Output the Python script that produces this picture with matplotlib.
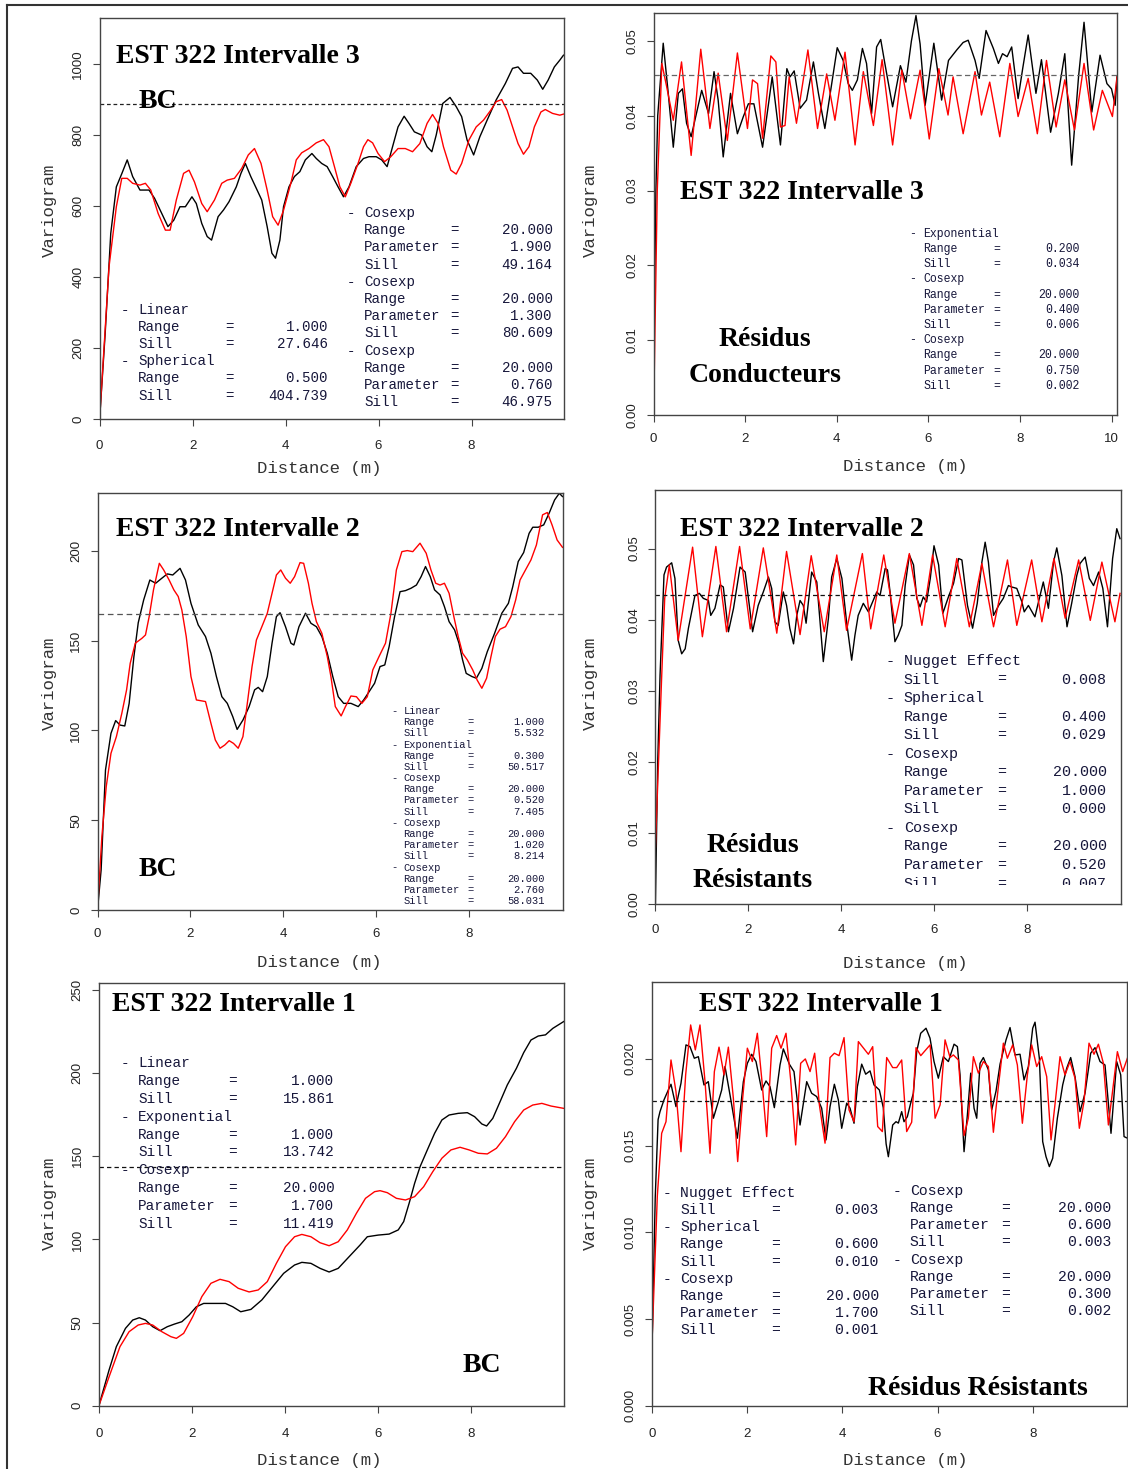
import numpy as np
import matplotlib
matplotlib.use('Agg')
import matplotlib.pyplot as plt
from matplotlib.lines import Line2D
from matplotlib.transforms import Bbox, TransformedBbox

W, H = 1128, 1469

# ── Intervalle 3, BC (haut gauche) : (distance, variogramme) ─────────────────
a_exp = [(0, 0), (0.12, 242), (0.24, 524), (0.36, 655), (0.48, 693), (0.594, 731),
         (0.711, 684), (0.868, 646), (1.063, 646), (1.181, 623), (1.337, 580),
         (1.47, 543), (1.595, 561), (1.728, 599), (1.845, 599), (1.986, 627),
         (2.08, 608), (2.197, 552), (2.314, 515), (2.408, 505), (2.549, 571),
         (2.666, 590), (2.783, 613), (2.94, 655), (3.04, 693), (3.135, 721),
         (3.252, 684), (3.37, 651), (3.487, 618), (3.604, 543), (3.706, 468),
         (3.784, 454), (3.878, 505), (3.956, 599), (4.073, 655), (4.19, 684),
         (4.308, 698), (4.425, 731), (4.566, 749), (4.66, 735), (4.777, 721),
         (4.894, 712), (5.012, 684), (5.129, 655), (5.246, 627), (5.364, 655),
         (5.52, 712), (5.676, 735), (5.794, 740), (5.95, 740), (6.067, 731),
         (6.184, 712), (6.301, 768), (6.419, 824), (6.55, 854), (6.653, 834),
         (6.77, 810), (6.927, 801), (7.044, 768), (7.146, 754), (7.24, 801),
         (7.381, 890), (7.537, 907), (7.67, 881), (7.787, 853), (7.904, 787),
         (8.045, 745), (8.178, 796), (8.335, 843), (8.53, 900), (8.726, 946),
         (8.882, 989), (9.0, 993), (9.117, 975), (9.273, 975), (9.414, 956),
         (9.531, 930), (9.648, 956), (9.781, 993), (9.898, 1012), (9.977, 1026)]
a_mod = [(0, 0), (0.203, 430), (0.36, 599), (0.477, 679), (0.594, 679), (0.711, 665),
         (0.868, 660), (0.985, 665), (1.1, 646), (1.259, 580), (1.415, 533),
         (1.517, 533), (1.65, 618), (1.806, 693), (1.923, 702), (2.04, 669),
         (2.197, 608), (2.314, 585), (2.471, 618), (2.627, 665), (2.744, 674),
         (2.9, 679), (3.057, 707), (3.198, 745), (3.331, 763), (3.472, 721),
         (3.604, 646), (3.722, 571), (3.839, 547), (3.956, 589), (4.113, 665),
         (4.23, 731), (4.347, 751), (4.503, 763), (4.66, 779), (4.816, 788),
         (4.934, 768), (5.051, 712), (5.168, 655), (5.285, 627), (5.403, 665),
         (5.559, 721), (5.676, 768), (5.77, 788), (5.872, 779), (5.989, 749),
         (6.13, 726), (6.263, 740), (6.419, 763), (6.575, 763), (6.731, 754),
         (6.888, 777), (7.044, 834), (7.161, 859), (7.279, 834), (7.396, 768),
         (7.553, 702), (7.67, 691), (7.787, 721), (7.944, 787), (8.1, 824),
         (8.257, 843), (8.413, 871), (8.53, 895), (8.648, 901), (8.765, 871),
         (8.882, 824), (9.0, 777), (9.117, 747), (9.234, 768), (9.351, 824),
         (9.492, 866), (9.586, 873), (9.742, 862), (9.898, 857), (9.977, 860)]
a_sill = 889

# ── Intervalle 3, résidus conducteurs (haut droite) ──────────────────────────
b_exp = [(0, 0.005), (0.05, 0.030), (0.09, 0.040), (0.21, 0.0497), (0.32, 0.0430),
         (0.43, 0.0358), (0.54, 0.0430), (0.63, 0.0436), (0.72, 0.0390), (0.82, 0.0372),
         (1.05, 0.0434), (1.20, 0.0403), (1.32, 0.0459), (1.41, 0.0421), (1.52, 0.0345),
         (1.68, 0.0430), (1.83, 0.0376), (1.96, 0.0399), (2.07, 0.0416), (2.19, 0.0416),
         (2.38, 0.0358), (2.59, 0.0452), (2.77, 0.0361), (2.91, 0.0463), (2.98, 0.0452),
         (3.07, 0.0460), (3.20, 0.0410), (3.34, 0.0421), (3.49, 0.0472), (3.60, 0.0430),
         (3.74, 0.0383), (3.89, 0.0443), (4.01, 0.0491), (4.14, 0.0474), (4.25, 0.0443),
         (4.34, 0.0434), (4.45, 0.0448), (4.56, 0.0490), (4.65, 0.0470), (4.76, 0.0403),
         (4.87, 0.0492), (4.96, 0.0502), (5.05, 0.0470), (5.22, 0.0412), (5.39, 0.0467),
         (5.51, 0.0445), (5.63, 0.0500), (5.73, 0.0534), (5.82, 0.0496), (5.93, 0.0414),
         (6.12, 0.0497), (6.29, 0.0421), (6.44, 0.0474), (6.62, 0.0488), (6.76, 0.0498),
         (6.87, 0.0501), (7.02, 0.0474), (7.11, 0.0450), (7.26, 0.0514), (7.42, 0.0490),
         (7.53, 0.0470), (7.62, 0.0483), (7.72, 0.0479), (7.82, 0.0492), (7.96, 0.0423),
         (8.06, 0.0463), (8.18, 0.0508), (8.35, 0.0430), (8.47, 0.0475), (8.67, 0.0378),
         (8.84, 0.0430), (8.98, 0.0483), (9.13, 0.0334), (9.28, 0.0452), (9.40, 0.0525),
         (9.57, 0.0405), (9.75, 0.0481), (9.90, 0.0443), (10.0, 0.0436), (10.08, 0.0414),
         (10.12, 0.0452)]
b_mod = [(0, 0.0), (0.08, 0.030), (0.18, 0.047), (0.285, 0.0439), (0.43, 0.0394),
         (0.61, 0.0472), (0.82, 0.0347), (1.03, 0.0489), (1.23, 0.0383), (1.41, 0.0457),
         (1.61, 0.0367), (1.83, 0.0484), (2.05, 0.0383), (2.16, 0.0448), (2.27, 0.0443),
         (2.38, 0.0370), (2.56, 0.0480), (2.67, 0.0472), (2.77, 0.0385), (2.87, 0.0387),
         (2.96, 0.0452), (3.12, 0.0390), (3.37, 0.0488), (3.58, 0.0383), (3.78, 0.0456),
         (3.96, 0.0394), (4.18, 0.0485), (4.40, 0.0361), (4.58, 0.0459), (4.80, 0.0387),
         (4.99, 0.0475), (5.22, 0.0361), (5.42, 0.0461), (5.61, 0.0396), (5.82, 0.0461),
         (6.02, 0.0369), (6.23, 0.0463), (6.43, 0.0401), (6.54, 0.0452), (6.76, 0.0376),
         (7.02, 0.0459), (7.16, 0.0401), (7.34, 0.0445), (7.56, 0.0372), (7.78, 0.0470),
         (7.96, 0.0399), (8.18, 0.0450), (8.38, 0.0376), (8.58, 0.0474), (8.79, 0.0385),
         (8.98, 0.0448), (9.19, 0.0381), (9.40, 0.0470), (9.61, 0.0381), (9.80, 0.0434),
         (10.02, 0.0399), (10.12, 0.0452)]
b_sill = 0.04542

# ── Intervalle 2, BC (milieu gauche) ─────────────────────────────────────────
c_exp = [(0, 0), (0.078, 22.3), (0.172, 78), (0.29, 98.4), (0.391, 105.5), (0.485, 103),
         (0.587, 102.5), (0.681, 115), (0.783, 141), (0.877, 160), (0.994, 172.7),
         (1.127, 183.8), (1.252, 182), (1.385, 184.8), (1.503, 187.2), (1.62, 186.6),
         (1.777, 190.3), (1.894, 183.8), (2.012, 170.8), (2.168, 158.8), (2.325, 152.3),
         (2.442, 143), (2.56, 130), (2.677, 118.8), (2.794, 115.1), (2.912, 107.7),
         (3.006, 100.6), (3.131, 105.8), (3.264, 113.3), (3.382, 122.6), (3.46, 124),
         (3.554, 121.6), (3.655, 130), (3.757, 148.6), (3.851, 163.4), (3.93, 165.6),
         (4.047, 157.8), (4.164, 148.6), (4.227, 147.6), (4.337, 157.8), (4.478, 165.3),
         (4.595, 159.7), (4.712, 157.8), (4.83, 152.3), (4.947, 143), (5.065, 130),
         (5.182, 118.8), (5.299, 115.1), (5.456, 115.1), (5.613, 113.3), (5.73, 117),
         (5.847, 121.6), (5.965, 126.3), (6.082, 135.6), (6.184, 136.5), (6.278, 146.7),
         (6.395, 163.4), (6.513, 177.3), (6.63, 177.9), (6.748, 179.2), (6.865, 181),
         (6.967, 185.7), (7.061, 191.3), (7.163, 185.7), (7.256, 178.3), (7.374, 175.5),
         (7.468, 169), (7.569, 160.6), (7.687, 156), (7.781, 148.6), (7.859, 139.3),
         (7.937, 131.8), (8.063, 130), (8.156, 129.1), (8.274, 134.6), (8.391, 143.9),
         (8.548, 154.1), (8.704, 165.3), (8.845, 170.8), (8.939, 180.1), (9.057, 194.1),
         (9.174, 199.1), (9.291, 209.8), (9.37, 213.2), (9.487, 213.2), (9.605, 214.5),
         (9.722, 221), (9.84, 228.4), (9.941, 232.1), (10.01, 230.3)]
c_mod = [(0, 0), (0.094, 40.9), (0.188, 68.7), (0.29, 87.3), (0.407, 96.6), (0.524, 109.6),
         (0.626, 122.6), (0.704, 137.4), (0.814, 148.6), (0.955, 151.3), (1.033, 153.2),
         (1.112, 163.4), (1.205, 178.3), (1.331, 193.1), (1.425, 189.4), (1.542, 183.8),
         (1.644, 178.3), (1.738, 174.6), (1.816, 167.1), (1.91, 152.3), (2.012, 130),
         (2.129, 117), (2.325, 116.1), (2.442, 104), (2.536, 94.7), (2.638, 90.1),
         (2.74, 91.9), (2.834, 94.3), (2.928, 92.8), (3.029, 90.1), (3.131, 96.6),
         (3.225, 115.1), (3.327, 135.6), (3.421, 150.4), (3.538, 157.8), (3.655, 165.3),
         (3.757, 176.4), (3.851, 186.6), (3.945, 189.4), (4.047, 184.8), (4.149, 182),
         (4.243, 185.7), (4.36, 193.5), (4.438, 193.1), (4.54, 182), (4.618, 170.8),
         (4.712, 160.6), (4.83, 154.1), (4.947, 141.1), (5.025, 130), (5.119, 113.3),
         (5.245, 108.1), (5.338, 113.3), (5.456, 119.2), (5.574, 118.8), (5.691, 115.1),
         (5.808, 118.8), (5.926, 133.7), (6.059, 141.1), (6.2, 148.6), (6.317, 165.3),
         (6.434, 189.4), (6.552, 199.6), (6.669, 200.2), (6.787, 199.6), (6.943, 204.3),
         (7.076, 198.7), (7.178, 189.4), (7.28, 182), (7.374, 181), (7.468, 182),
         (7.569, 176.4), (7.671, 163.4), (7.765, 152.3), (7.859, 143), (7.961, 139.3),
         (8.078, 133.7), (8.172, 128.1), (8.274, 123.5), (8.376, 129.1), (8.47, 141.1),
         (8.564, 152.3), (8.665, 156.4), (8.783, 157.8), (8.9, 163.4), (9.002, 172.7),
         (9.096, 183.8), (9.213, 189.4), (9.331, 195), (9.448, 203.3), (9.581, 220.1),
         (9.683, 221.4), (9.785, 214.5), (9.894, 206.1), (10.01, 202)]
c_sill = 165

# ── Intervalle 2, résidus résistants (milieu droite) ─────────────────────────
d_exp = [(0, 0), (0.05, 0.020), (0.10, 0.0322), (0.185, 0.0463), (0.24, 0.0474),
         (0.35, 0.0480), (0.42, 0.0458), (0.49, 0.0371), (0.565, 0.0352), (0.64, 0.0359),
         (0.71, 0.0388), (0.78, 0.0411), (0.85, 0.0434), (0.945, 0.0437), (1.03, 0.0430),
         (1.14, 0.0427), (1.19, 0.0406), (1.28, 0.0416), (1.39, 0.0449), (1.46, 0.0446),
         (1.57, 0.0383), (1.68, 0.0416), (1.82, 0.0474), (1.93, 0.0467), (2.09, 0.0383),
         (2.21, 0.0420), (2.32, 0.0439), (2.43, 0.0460), (2.50, 0.0444), (2.57, 0.0397),
         (2.64, 0.0392), (2.75, 0.0439), (2.82, 0.0420), (2.89, 0.0388), (2.97, 0.0366),
         (3.04, 0.0406), (3.11, 0.0427), (3.18, 0.0420), (3.24, 0.0395), (3.36, 0.0467),
         (3.47, 0.0453), (3.54, 0.0397), (3.61, 0.0341), (3.72, 0.0402), (3.79, 0.0460),
         (3.90, 0.0486), (4.01, 0.0458), (4.11, 0.0397), (4.22, 0.0343), (4.29, 0.0378),
         (4.36, 0.0406), (4.47, 0.0423), (4.58, 0.0411), (4.67, 0.0425), (4.76, 0.0439),
         (4.83, 0.0434), (4.94, 0.0472), (4.99, 0.0470), (5.045, 0.0439), (5.15, 0.0369),
         (5.22, 0.0378), (5.30, 0.0392), (5.37, 0.0448), (5.46, 0.0491), (5.55, 0.0477),
         (5.62, 0.0430), (5.69, 0.0418), (5.76, 0.0432), (5.83, 0.0425), (5.91, 0.0458),
         (5.99, 0.0504), (6.09, 0.0477), (6.18, 0.0409), (6.30, 0.0432), (6.41, 0.0451),
         (6.52, 0.0486), (6.59, 0.0484), (6.71, 0.0420), (6.82, 0.0388), (6.92, 0.0423),
         (7.02, 0.0481), (7.09, 0.0509), (7.16, 0.0481), (7.27, 0.0406), (7.38, 0.0420),
         (7.48, 0.0430), (7.59, 0.0448), (7.66, 0.0446), (7.77, 0.0444), (7.88, 0.0425),
         (7.93, 0.0411), (8.02, 0.0420), (8.16, 0.0404), (8.27, 0.0434), (8.34, 0.0453),
         (8.45, 0.0416), (8.56, 0.0481), (8.63, 0.0501), (8.74, 0.0462), (8.85, 0.0390),
         (8.95, 0.0423), (9.06, 0.0462), (9.13, 0.0479), (9.24, 0.0488), (9.33, 0.0458),
         (9.42, 0.0448), (9.53, 0.0467), (9.62, 0.0444), (9.72, 0.0390), (9.83, 0.0486),
         (9.92, 0.0528), (9.99, 0.0514)]
d_mod = [(0, 0.008), (0.135, 0.032), (0.20, 0.043), (0.30, 0.0477), (0.49, 0.0371),
         (0.80, 0.0502), (1.01, 0.0376), (1.30, 0.0503), (1.53, 0.0383), (1.81, 0.0503),
         (2.04, 0.0387), (2.32, 0.0501), (2.61, 0.0381), (2.82, 0.0496), (3.11, 0.0379),
         (3.35, 0.0490), (3.63, 0.0383), (3.90, 0.0491), (4.11, 0.0385), (4.45, 0.0493),
         (4.63, 0.0387), (4.91, 0.0491), (5.15, 0.0395), (5.46, 0.0493), (5.73, 0.0392),
         (5.96, 0.0491), (6.23, 0.0390), (6.48, 0.0486), (6.75, 0.0390), (7.02, 0.0479),
         (7.27, 0.0390), (7.57, 0.0484), (7.77, 0.0392), (8.09, 0.0484), (8.31, 0.0397),
         (8.57, 0.0486), (8.81, 0.0402), (9.10, 0.0484), (9.35, 0.0399), (9.60, 0.0481),
         (9.88, 0.0397), (9.99, 0.0437)]
d_sill = 0.04353

# ── Intervalle 1, BC (bas gauche) ────────────────────────────────────────────
e_exp = [(0, 0), (0.219, 21.5), (0.375, 35.5), (0.571, 46.5), (0.727, 51.5), (0.868, 52.9),
         (1.0, 51.5), (1.157, 47.5), (1.314, 45.1), (1.47, 47.5), (1.626, 49.1),
         (1.783, 50.5), (1.939, 54.5), (2.095, 59.5), (2.252, 61.5), (2.486, 61.5),
         (2.721, 61.5), (2.877, 59.5), (3.049, 56.5), (3.268, 57.9), (3.503, 63.6),
         (3.737, 71.6), (3.972, 79.6), (4.206, 84.6), (4.363, 86.2), (4.558, 85.6),
         (4.754, 82.6), (4.949, 80.4), (5.145, 82.6), (5.379, 89.6), (5.614, 96.6),
         (5.77, 101.6), (6.005, 102.6), (6.239, 103.2), (6.435, 105.7), (6.552, 110.7),
         (6.669, 121.7), (6.787, 133.7), (6.904, 143.7), (7.06, 153.8), (7.217, 163.8),
         (7.373, 171.8), (7.529, 174.8), (7.725, 175.8), (7.92, 176.2), (8.077, 173.8),
         (8.233, 169.4), (8.335, 168.2), (8.468, 172.8), (8.624, 182.8), (8.78, 192.9),
         (8.976, 202.9), (9.132, 212.3), (9.289, 219.9), (9.445, 222.3), (9.601, 223),
         (9.758, 226.9), (9.992, 231)]
e_mod = [(0, 0), (0.219, 17.4), (0.453, 35.5), (0.649, 44.5), (0.844, 48.5), (1.0, 49.5),
         (1.157, 48.5), (1.353, 44.5), (1.548, 41.5), (1.665, 40.5), (1.822, 43.5),
         (2.017, 53.5), (2.213, 65.6), (2.408, 73.6), (2.604, 76), (2.799, 74.6),
         (2.995, 70.6), (3.229, 68.4), (3.425, 69.6), (3.62, 74.6), (3.815, 85.6),
         (4.011, 95.6), (4.206, 101.6), (4.363, 103), (4.558, 101.6), (4.754, 98),
         (4.949, 96.2), (5.145, 98.6), (5.34, 105.7), (5.536, 115.7), (5.731, 124.7),
         (5.927, 128.7), (6.044, 129.3), (6.2, 128.1), (6.396, 124.7), (6.591, 123.7),
         (6.787, 125.7), (6.982, 131.7), (7.177, 140.7), (7.373, 148.8), (7.568, 153.8),
         (7.764, 155.4), (7.959, 153.8), (8.155, 151.8), (8.35, 151.4), (8.546, 154.8),
         (8.741, 161.8), (8.937, 170.8), (9.132, 177.8), (9.327, 180.8), (9.523, 181.8),
         (9.719, 180.2), (9.992, 178.8)]
e_sill = 143.4

# ── Intervalle 1, résidus résistants (bas droite) ────────────────────────────
f_exp = [(0, 0.003), (0.07, 0.012), (0.13, 0.0165), (0.17, 0.01696), (0.254, 0.01764),
         (0.345, 0.01821), (0.401, 0.01854), (0.506, 0.01725), (0.611, 0.01860),
         (0.716, 0.02081), (0.80, 0.02071), (0.891, 0.02004), (0.976, 0.02013),
         (1.094, 0.01850), (1.185, 0.01869), (1.291, 0.01658), (1.396, 0.01754),
         (1.466, 0.01821), (1.536, 0.01956), (1.641, 0.01792), (1.795, 0.01543),
         (1.921, 0.01869), (2.005, 0.01975), (2.096, 0.02027), (2.187, 0.01985),
         (2.306, 0.01821), (2.397, 0.01873), (2.481, 0.01840), (2.572, 0.01719),
         (2.691, 0.01965), (2.761, 0.02058), (2.887, 0.01970), (2.985, 0.01927),
         (3.112, 0.01619), (3.252, 0.01869), (3.356, 0.01802), (3.461, 0.01783),
         (3.566, 0.01716), (3.657, 0.01533), (3.742, 0.01725), (3.833, 0.01854),
         (3.916, 0.01764), (3.987, 0.01600), (4.092, 0.01745), (4.162, 0.01716),
         (4.246, 0.01629), (4.316, 0.01840), (4.407, 0.01970), (4.491, 0.01912),
         (4.582, 0.01931), (4.666, 0.01850), (4.778, 0.01821), (4.86, 0.0172),
         (4.92, 0.0151), (4.967, 0.01436), (5.058, 0.01619), (5.128, 0.01638),
         (5.177, 0.0163), (5.247, 0.01696), (5.296, 0.01638), (5.366, 0.01667),
         (5.436, 0.01745), (5.492, 0.01802), (5.562, 0.02042), (5.646, 0.02148),
         (5.758, 0.02177), (5.842, 0.02120), (5.926, 0.01985), (6.017, 0.01889),
         (6.122, 0.02013), (6.228, 0.01985), (6.347, 0.02085), (6.417, 0.02071),
         (6.473, 0.01908), (6.557, 0.01465), (6.627, 0.01677), (6.697, 0.01918),
         (6.767, 0.01716), (6.823, 0.01658), (6.893, 0.01975), (6.963, 0.02008),
         (7.068, 0.01937), (7.138, 0.01706), (7.229, 0.01815), (7.313, 0.01970),
         (7.439, 0.02110), (7.523, 0.02181), (7.628, 0.02023), (7.733, 0.02027),
         (7.817, 0.01879), (7.908, 0.01956), (7.999, 0.02177), (8.048, 0.02212),
         (8.139, 0.02004), (8.209, 0.01523), (8.279, 0.01436), (8.349, 0.01379),
         (8.419, 0.01427), (8.517, 0.01658), (8.629, 0.01850), (8.713, 0.01946),
         (8.797, 0.02008), (8.888, 0.01898), (8.993, 0.01696), (9.098, 0.01802),
         (9.217, 0.02033), (9.308, 0.02065), (9.413, 0.01985), (9.518, 0.01965),
         (9.644, 0.01571), (9.763, 0.01985), (9.848, 0.01908), (9.918, 0.01552),
         (9.988, 0.01543)]
f_mod = [(0, 0.0035), (0.114, 0.0121), (0.205, 0.01571), (0.296, 0.01638), (0.401, 0.01994),
         (0.506, 0.01811), (0.611, 0.01465), (0.709, 0.01908), (0.814, 0.02196),
         (0.912, 0.02052), (1.010, 0.02196), (1.116, 0.01869), (1.221, 0.01456),
         (1.312, 0.01927), (1.410, 0.02068), (1.515, 0.01908), (1.606, 0.02068),
         (1.711, 0.01774), (1.802, 0.01408), (1.907, 0.01774), (2.005, 0.02062),
         (2.110, 0.01985), (2.215, 0.02148), (2.313, 0.01869), (2.411, 0.01552),
         (2.516, 0.02062), (2.621, 0.02135), (2.712, 0.02062), (2.817, 0.02148),
         (2.915, 0.01879), (3.020, 0.01504), (3.125, 0.01975), (3.223, 0.02000),
         (3.322, 0.01927), (3.419, 0.02033), (3.518, 0.01735), (3.637, 0.01514),
         (3.742, 0.02008), (3.833, 0.02033), (3.931, 0.02019), (4.036, 0.02123),
         (4.141, 0.01706), (4.246, 0.01638), (4.337, 0.02100), (4.547, 0.02027),
         (4.638, 0.02071), (4.743, 0.01610), (4.841, 0.01581), (4.932, 0.02008),
         (5.058, 0.01950), (5.142, 0.01950), (5.247, 0.01994), (5.352, 0.01581),
         (5.457, 0.01635), (5.549, 0.02065), (5.648, 0.02019), (5.844, 0.02081),
         (5.949, 0.01658), (6.054, 0.01735), (6.158, 0.02110), (6.263, 0.02008),
         (6.333, 0.02023), (6.438, 0.01994), (6.558, 0.01558), (6.647, 0.01658),
         (6.753, 0.02013), (6.858, 0.01918), (6.963, 0.01985), (7.068, 0.01956),
         (7.173, 0.01577), (7.278, 0.01840), (7.383, 0.02091), (7.467, 0.02004),
         (7.579, 0.02081), (7.677, 0.01965), (7.782, 0.01629), (7.887, 0.01908),
         (7.978, 0.02081), (8.083, 0.01956), (8.188, 0.02013), (8.293, 0.01898),
         (8.384, 0.01533), (8.482, 0.01774), (8.573, 0.02013), (8.678, 0.01908),
         (8.783, 0.01985), (8.888, 0.01889), (8.979, 0.01600), (9.077, 0.01754),
         (9.182, 0.02091), (9.287, 0.02027), (9.379, 0.02085), (9.484, 0.01975),
         (9.589, 0.01619), (9.680, 0.01821), (9.778, 0.02042), (9.890, 0.01927),
         (9.988, 0.02004)]
f_sill = 0.01758

# ── Modèles ajustés (texte des légendes) ─────────────────────────────────────
a_models_left = [('Linear', [('Range', '1.000'), ('Sill', '27.646')]),
                 ('Spherical', [('Range', '0.500'), ('Sill', '404.739')])]
a_models_right = [('Cosexp', [('Range', '20.000'), ('Parameter', '1.900'), ('Sill', '49.164')]),
                  ('Cosexp', [('Range', '20.000'), ('Parameter', '1.300'), ('Sill', '80.609')]),
                  ('Cosexp', [('Range', '20.000'), ('Parameter', '0.760'), ('Sill', '46.975')])]
b_models = [('Exponential', [('Range', '0.200'), ('Sill', '0.034')]),
            ('Cosexp', [('Range', '20.000'), ('Parameter', '0.400'), ('Sill', '0.006')]),
            ('Cosexp', [('Range', '20.000'), ('Parameter', '0.750'), ('Sill', '0.002')])]
c_models = [('Linear', [('Range', '1.000'), ('Sill', '5.532')]),
            ('Exponential', [('Range', '0.300'), ('Sill', '50.517')]),
            ('Cosexp', [('Range', '20.000'), ('Parameter', '0.520'), ('Sill', '7.405')]),
            ('Cosexp', [('Range', '20.000'), ('Parameter', '1.020'), ('Sill', '8.214')]),
            ('Cosexp', [('Range', '20.000'), ('Parameter', '2.760'), ('Sill', '58.031')])]
d_models = [('Nugget Effect', [('Sill', '0.008')]),
            ('Spherical', [('Range', '0.400'), ('Sill', '0.029')]),
            ('Cosexp', [('Range', '20.000'), ('Parameter', '1.000'), ('Sill', '0.000')]),
            ('Cosexp', [('Range', '20.000'), ('Parameter', '0.520'), ('Sill', '0.007')])]
e_models = [('Linear', [('Range', '1.000'), ('Sill', '15.861')]),
            ('Exponential', [('Range', '1.000'), ('Sill', '13.742')]),
            ('Cosexp', [('Range', '20.000'), ('Parameter', '1.700'), ('Sill', '11.419')])]
f_models_left = [('Nugget Effect', [('Sill', '0.003')]),
                 ('Spherical', [('Range', '0.600'), ('Sill', '0.010')]),
                 ('Cosexp', [('Range', '20.000'), ('Parameter', '1.700'), ('Sill', '0.001')])]
f_models_right = [('Cosexp', [('Range', '20.000'), ('Parameter', '0.600'), ('Sill', '0.003')]),
                  ('Cosexp', [('Range', '20.000'), ('Parameter', '0.300'), ('Sill', '0.002')])]

SERIF = 'Liberation Serif'
MONO = 'Liberation Mono'
INK = '#16163a'
plt.rcParams['font.family'] = ['Liberation Sans', 'DejaVu Sans']

fig = plt.figure(figsize=(W / 100, H / 100), dpi=100)


def make_axes(box, xlim, ylim, xticks, yticks, yfmt, xpad):
    l, t, r, b = box
    ax = fig.add_axes([l / W, 1 - b / H, (r - l) / W, (b - t) / H])
    ax.set_xlim(*xlim)
    ax.set_ylim(*ylim)
    ax.set_xticks(xticks)
    ax.set_xticklabels([f'{v:g}' for v in xticks])
    ax.set_yticks(yticks)
    ax.set_yticklabels([yfmt.format(v) for v in yticks], rotation=90, va='center')
    ax.tick_params(direction='out', length=5, width=0.8, color='#444',
                   labelcolor='#222', labelsize=9.5)
    ax.tick_params(axis='x', pad=xpad)
    ax.tick_params(axis='y', pad=6)
    for sp in ax.spines.values():
        sp.set_color('#444')
        sp.set_linewidth(1.0)
    return ax


def axis_labels(ax, ylab, xlab):
    ax.set_ylabel('Variogram', family=MONO, fontsize=12.5, color='#333', va='center')
    ax.yaxis.set_label_coords(ylab[0] / W, 1 - ylab[1] / H, transform=fig.transFigure)
    ax.set_xlabel('Distance (m)', family=MONO, fontsize=12.5, color='#333', va='center')
    ax.xaxis.set_label_coords(xlab[0] / W, 1 - xlab[1] / H, transform=fig.transFigure)


def curves(ax, exp, mod, sill, sill_color, dashes):
    ex, ey = np.array(exp).T
    mx, my = np.array(mod).T
    ax.plot(ex, ey, color='black', lw=1.0)
    ax.plot(mx, my, color='#ff0000', lw=1.0)
    ax.axhline(sill, color=sill_color, lw=0.9, dashes=dashes)


def bold_text(x, y, s, ha='left', size=20):
    em = size * 100 / 72
    fig.text(x / W, 1 - (y + 0.33 * em) / H, s, ha=ha, va='baseline',
             family=SERIF, weight='bold', size=size, color='black')


def legend_block(name_x, eq_x, val_x, y0, dy, size, models, clip_y=None):
    # colonnes placées séparément : tiret, nom, '=', valeur alignée à droite
    em = size * 100 / 72
    dash_x = name_x - 2 * 0.6 * em
    rows = []
    for name, params in models:
        rows.append((True, name, None))
        for p, v in params:
            rows.append((False, p, v))
    clip = None
    if clip_y is not None:
        clip = TransformedBbox(Bbox.from_extents(0, 1 - clip_y / H, 1, 1), fig.transFigure)
    kw = dict(va='baseline', family=MONO, size=size, color=INK)
    for i, (head, name, val) in enumerate(rows):
        y = 1 - (y0 + i * dy + 0.33 * em) / H
        parts = [fig.text(name_x / W, y, name, ha='left', **kw)]
        if head:
            parts.append(fig.text(dash_x / W, y, '-', ha='left', **kw))
        else:
            parts.append(fig.text(eq_x / W, y, '=', ha='center', **kw))
            parts.append(fig.text(val_x / W, y, val, ha='right', **kw))
        if clip is not None:
            for t in parts:
                t.set_clip_box(clip)
                t.set_clip_on(True)


# ── (a) Intervalle 3, BC ─────────────────────────────────────────────────────
ax = make_axes((99.6, 18.3, 563.6, 419.3), (0, 9.98), (0, 1130),
               [0, 2, 4, 6, 8], [0, 200, 400, 600, 800, 1000], '{:g}', 9.6)
curves(ax, a_exp, a_mod, a_sill, '#222', (3, 2.2))
axis_labels(ax, (49, 210), (319, 468))
bold_text(116, 54, 'EST 322 Intervalle 3')
bold_text(139, 99, 'BC')
legend_block(138, 229, 328, 309, 17.2, 10.2, a_models_left)
legend_block(364, 454.5, 552.7, 212.3, 17.2, 10.2, a_models_right)

# ── (b) Intervalle 3, résidus conducteurs ────────────────────────────────────
ax = make_axes((653.6, 13.3, 1117, 415), (0, 10.12), (0, 0.0537),
               [0, 2, 4, 6, 8, 10], [0, 0.01, 0.02, 0.03, 0.04, 0.05], '{:.2f}', 7.7)
curves(ax, b_exp, b_mod, b_sill, '#666', (4.3, 2.6))
axis_labels(ax, (590, 210), (905.6, 466.7))
bold_text(680.3, 190, 'EST 322 Intervalle 3')
bold_text(764.7, 336.7, 'Résidus', ha='center')
bold_text(764.7, 372.7, 'Conducteurs', ha='center')
legend_block(923, 997, 1079.6, 233, 15.2, 8.3, b_models)

# ── (c) Intervalle 2, BC ─────────────────────────────────────────────────────
ax = make_axes((97.5, 493.3, 562.5, 910), (0, 10.01), (0, 232.1),
               [0, 2, 4, 6, 8], [0, 50, 100, 150, 200], '{:g}', 7.7)
curves(ax, c_exp, c_mod, c_sill, '#555', (4.5, 3))
axis_labels(ax, (49, 683), (319, 963))
bold_text(116, 526.7, 'EST 322 Intervalle 2')
bold_text(139, 866.7, 'BC')
legend_block(403.6, 471, 544.4, 710.7, 11.17, 7.5, c_models)

# ── (d) Intervalle 2, résidus résistants ─────────────────────────────────────
ax = make_axes((655.4, 490.3, 1120.5, 904), (0, 10.0), (0, 0.0582),
               [0, 2, 4, 6, 8], [0, 0.01, 0.02, 0.03, 0.04, 0.05], '{:.2f}', 9.6)
curves(ax, d_exp, d_mod, d_sill, '#111', (3.5, 2.5))
axis_labels(ax, (590, 683), (905.6, 963.3))
bold_text(680, 526.7, 'EST 322 Intervalle 2')
bold_text(752.4, 843.3, 'Résidus', ha='center')
bold_text(752.4, 878.3, 'Résistants', ha='center')
legend_block(903.8, 1001.3, 1106.6, 660, 18.55, 10.8, d_models, clip_y=885)

# ── (e) Intervalle 1, BC ─────────────────────────────────────────────────────
ax = make_axes((98.9, 983.3, 563.6, 1405.7), (0, 9.99), (0, 254),
               [0, 2, 4, 6, 8], [0, 50, 100, 150, 200, 250], '{:g}', 10.7)
curves(ax, e_exp, e_mod, e_sill, '#111', (3.5, 2.5))
axis_labels(ax, (49, 1203), (319, 1460))
bold_text(112, 1002.3, 'EST 322 Intervalle 1')
bold_text(462.5, 1362.7, 'BC')
legend_block(138.2, 232, 334.5, 1062.7, 17.8, 10.4, e_models)

# ── (f) Intervalle 1, résidus résistants ─────────────────────────────────────
ax = make_axes((651.9, 982.3, 1127, 1405.7), (0, 9.98), (0, 0.02442),
               [0, 2, 4, 6, 8], [0, 0.005, 0.01, 0.015, 0.02], '{:.3f}', 10.7)
curves(ax, f_exp, f_mod, f_sill, '#111', (3.5, 2.5))
axis_labels(ax, (590, 1203), (905.6, 1460))
bold_text(698.8, 1002.3, 'EST 322 Intervalle 1')
bold_text(977.8, 1386, 'Résidus Résistants', ha='center')
legend_block(680.3, 775.3, 878.9, 1192.3, 17.1, 10.6, f_models_left)
legend_block(909.9, 1006, 1111, 1190, 17.2, 10.6, f_models_right)

# cadre de la page (haut et gauche)
fig.add_artist(Line2D([7 / W, 7 / W], [0, 1 - 5 / H], transform=fig.transFigure,
                      color='#333', lw=1.5))
fig.add_artist(Line2D([7 / W, 1], [1 - 5 / H, 1 - 5 / H], transform=fig.transFigure,
                      color='#333', lw=1.5))

fig.savefig('out.png', dpi=100)
plt.close(fig)
